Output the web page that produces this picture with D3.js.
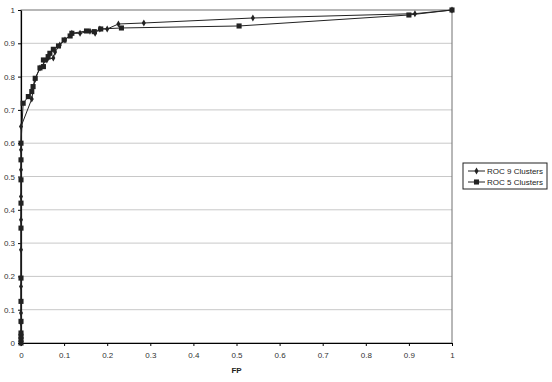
<!DOCTYPE html>
<html>
<head>
<meta charset="utf-8">
<script src="https://cdn.jsdelivr.net/npm/d3@7"></script>
<style>
  body { margin: 0; background: #fff; }
  svg { font-family: "Liberation Sans", Arial, sans-serif; }
</style>
</head>
<body>
<div id="chart"></div>
<script>
// ROC 9 Clusters (diamonds)
const fp9 = [0, 0, 0, 0, 0, 0, 0, 0, 0, 0, 0, 0, 0,
    0.025, 0.032, 0.044, 0.06, 0.075, 0.079, 0.09, 0.102, 0.118, 0.137, 0.16, 0.172, 0.183, 0.2, 0.226,
    0.285, 0.538, 0.914, 1];
const tp9 = [0, 0.01, 0.02, 0.03, 0.06, 0.09, 0.17, 0.28, 0.37, 0.44, 0.52, 0.58, 0.65,
    0.733, 0.79, 0.826, 0.85, 0.856, 0.874, 0.895, 0.91, 0.93, 0.93, 0.936, 0.93, 0.943, 0.943, 0.958,
    0.961, 0.976, 0.989, 1];

// ROC 5 Clusters (squares)
const fp5 = [0, 0, 0, 0, 0, 0, 0, 0, 0, 0, 0, 0,
    0.005, 0.017, 0.025, 0.028, 0.033, 0.044, 0.052, 0.052, 0.063, 0.067, 0.075, 0.087, 0.1, 0.114, 0.118,
    0.152, 0.17, 0.185, 0.233, 0.506, 0.9, 1];
const tp5 = [0, 0.01, 0.02, 0.03, 0.065, 0.125, 0.195, 0.345, 0.42, 0.49, 0.55, 0.6,
    0.72, 0.74, 0.755, 0.77, 0.795, 0.826, 0.83, 0.85, 0.86, 0.87, 0.882, 0.892, 0.91, 0.922, 0.93,
    0.937, 0.935, 0.943, 0.946, 0.952, 0.985, 1];

const ticks = [0, 0.1, 0.2, 0.3, 0.4, 0.5, 0.6, 0.7, 0.8, 0.9, 1];
const seriesNames = ["ROC 9 Clusters", "ROC 5 Clusters"];

const width = 552, height = 382;
const margin = {top: 10, right: 100, bottom: 39, left: 21};
const lineColor = "#222";

const svg = d3.select("#chart").append("svg")
    .attr("width", width)
    .attr("height", height);

const x = d3.scaleLinear().domain([0, 1]).range([margin.left, width - margin.right]);
const y = d3.scaleLinear().domain([0, 1]).range([height - margin.bottom, margin.top]);

// gridlines
svg.append("g")
    .selectAll("line")
    .data(ticks.slice(1, -1))
    .join("line")
    .attr("x1", x(0)).attr("x2", x(1))
    .attr("y1", d => y(d)).attr("y2", d => y(d))
    .attr("stroke", "#c8c8c8")
    .attr("stroke-width", 1);

// plot frame
svg.append("rect")
    .attr("x", x(0)).attr("y", y(1))
    .attr("width", x(1) - x(0))
    .attr("height", y(0) - y(1))
    .attr("fill", "none")
    .attr("stroke", "#707070")
    .attr("stroke-width", 1);

const fmt = d => d === 0 ? "0" : d === 1 ? "1" : d3.format(".1f")(d);

const xAxis = svg.append("g")
    .attr("transform", `translate(0,${y(0)})`)
    .call(d3.axisBottom(x).tickValues(ticks).tickFormat(fmt).tickSizeInner(3).tickSizeOuter(0).tickPadding(6));
const yAxis = svg.append("g")
    .attr("transform", `translate(${x(0)},0)`)
    .call(d3.axisLeft(y).tickValues(ticks).tickFormat(fmt).tickSizeInner(3).tickSizeOuter(0).tickPadding(3));

[xAxis, yAxis].forEach(a => {
    a.select(".domain").attr("stroke", "#000").attr("stroke-width", 1.2);
    a.selectAll(".tick line").attr("stroke", "#000");
    a.selectAll(".tick text")
        .attr("fill", "#333")
        .style("font-size", "8px")
        .style("font-family", "'Liberation Sans', Arial, sans-serif");
});

svg.append("text")
    .attr("x", x(0.5))
    .attr("y", 373)
    .attr("text-anchor", "middle")
    .style("font-size", "8px")
    .style("font-weight", "bold")
    .attr("fill", "#222")
    .text("FP");

const line = d3.line().x(d => x(d[0])).y(d => y(d[1]));
const data9 = fp9.map((f, i) => [f, tp9[i]]);
const data5 = fp5.map((f, i) => [f, tp5[i]]);

svg.append("path").datum(data9)
    .attr("fill", "none").attr("stroke", lineColor).attr("stroke-width", 1)
    .attr("d", line);
svg.append("path").datum(data5)
    .attr("fill", "none").attr("stroke", lineColor).attr("stroke-width", 1)
    .attr("d", line);

const diamond = d3.symbol().type(d3.symbolDiamond).size(14);
const square = d3.symbol().type(d3.symbolSquare).size(26);

svg.append("g").selectAll("path")
    .data(data9).join("path")
    .attr("transform", d => `translate(${x(d[0])},${y(d[1])})`)
    .attr("d", diamond)
    .attr("fill", lineColor);

svg.append("g").selectAll("path")
    .data(data5).join("path")
    .attr("transform", d => `translate(${x(d[0])},${y(d[1])})`)
    .attr("d", square)
    .attr("fill", lineColor);

// legend
const legend = svg.append("g").attr("transform", "translate(463,163)");
legend.append("rect")
    .attr("width", 84).attr("height", 26)
    .attr("fill", "#fff")
    .attr("stroke", "#222").attr("stroke-width", 1);

const symbols = [diamond, square];
seriesNames.forEach((name, i) => {
    const row = legend.append("g").attr("transform", `translate(0,${8 + i * 11})`);
    row.append("line")
        .attr("x1", 5).attr("x2", 22)
        .attr("stroke", lineColor).attr("stroke-width", 1);
    row.append("path")
        .attr("transform", "translate(13.5,0)")
        .attr("d", symbols[i])
        .attr("fill", lineColor);
    row.append("text")
        .attr("x", 24).attr("y", 3)
        .style("font-size", "8px")
        .attr("fill", "#222")
        .text(name);
});
</script>
</body>
</html>
